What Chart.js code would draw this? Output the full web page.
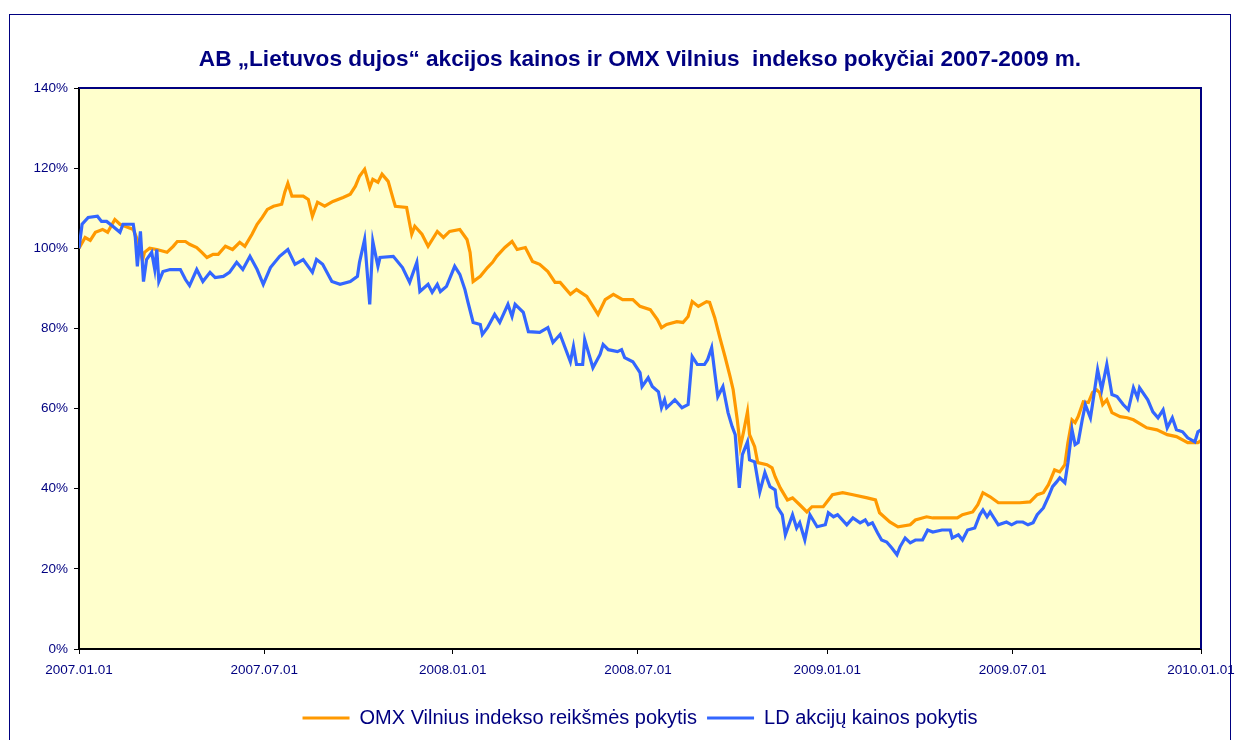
<!DOCTYPE html>
<html><head><meta charset="utf-8">
<script src="https://cdn.jsdelivr.net/npm/chart.js@4.4.1/dist/chart.umd.min.js"></script>
<style>html,body{margin:0;padding:0;background:#fff;} canvas{display:block;}</style>
</head><body>
<canvas id="c" width="1236" height="740"></canvas>
<script>
const titleText = 'AB „Lietuvos dujos“ akcijos kainos ir OMX Vilnius  indekso pokyčiai 2007-2009 m.';
const seriesNames = ['OMX Vilnius indekso reikšmės pokytis', 'LD akcijų kainos pokytis'];
// x = days since 2007.01.01
const tickDays = [0, 181, 365, 546, 731, 912, 1096];
const tickLabels = ['2007.01.01', '2007.07.01', '2008.01.01', '2008.07.01', '2009.01.01', '2009.07.01', '2010.01.01'];

const omxDays = [0,6,11,16,23,28,35,40,50,53,58,62,64,69,76,86,92,96,104,108,115,120,125,131,136,143,150,157,162,169,174,179,184,190,198,201,204,208,219,224,228,233,240,248,258,265,270,274,279,284,287,292,296,302,307,309,320,325,328,335,341,350,356,362,372,379,382,385,392,399,404,408,416,423,428,436,443,450,458,465,470,480,486,496,507,514,522,531,541,548,558,565,569,574,584,590,595,599,605,613,616,621,626,631,636,639,643,646,649,653,655,660,663,672,677,680,685,692,697,704,711,716,727,736,746,756,770,778,782,792,800,812,817,828,834,848,858,863,873,878,883,890,898,909,919,929,936,942,947,953,958,963,966,970,973,976,981,986,990,994,997,1000,1004,1009,1017,1024,1030,1043,1053,1063,1072,1083,1093,1096];
const omxValues = [100,102.7,102,104,104.7,104,107.2,106,105,104.7,101.5,97,99,100,99.7,99,100.5,101.7,101.7,101,100.2,99,97.7,98.5,98.5,100.5,99.7,101.5,100.5,103.5,106,107.7,109.7,110.5,111,114,116.2,113,113,112.2,108,111.5,110.5,111.7,112.7,113.5,115.5,118,119.7,115.2,117.2,116.5,118.5,116.7,112.2,110.5,110.2,103.5,105.5,103.5,100.5,104.2,102.7,104.2,104.7,102.2,99,91.7,93,95.2,96.5,98,100.2,101.7,99.7,100.2,96.7,96,94.2,91.5,91.5,88.5,89.7,88,83.5,87.2,88.5,87.2,87.2,85.5,84.7,82.2,80.2,81,81.7,81.5,83,86.7,85.5,86.7,86.5,82.7,77.7,73,68,64.7,57.2,50.5,54,59.2,53.5,50.5,46.5,46,45.2,43,40.2,37.2,37.7,36,34.2,35.5,35.5,38.5,39,38.5,37.7,37.2,34,31.7,30.5,31,32.2,33,32.7,32.7,32.7,33.5,34.2,36,39,38,36.5,36.5,36.5,36.7,38.5,39,41,44.7,44.2,46,51.5,57.2,56.5,58,61.7,61.5,64,64.7,64,61,62.2,59,58,57.7,57.2,55.2,54.7,53.5,53,51.5,51.5,52];

const ldDays = [0,3,9,18,22,27,33,40,43,53,55,57,60,63,66,71,74,76,78,82,89,99,104,108,115,121,128,133,141,147,154,160,167,174,180,187,196,204,211,219,228,232,238,247,255,265,272,274,279,284,287,292,294,307,316,323,330,333,341,345,350,353,359,367,372,377,380,385,392,394,399,406,411,419,423,426,434,439,450,458,463,470,480,483,486,492,494,502,509,512,517,526,530,533,541,548,550,556,560,566,569,572,574,582,589,595,599,604,611,614,618,621,624,629,634,638,641,645,648,653,655,660,665,670,675,680,682,687,690,697,701,704,709,714,721,729,732,737,741,750,756,763,768,771,775,780,784,789,794,799,802,807,812,817,824,829,834,843,851,853,859,863,868,875,880,883,887,890,898,906,911,916,922,927,932,936,942,947,951,955,958,963,966,970,973,976,980,983,988,990,995,999,1004,1009,1014,1020,1025,1030,1034,1036,1044,1049,1054,1059,1063,1068,1072,1078,1083,1090,1093,1096];
const ldValues = [100,106,107.7,108,106.7,106.7,105.5,104,106,106,102.7,95.5,104.2,91.7,97.2,99,94.7,99.7,91.7,94.2,94.7,94.7,92.2,90.7,94.7,91.7,94,92.7,93,94,96.5,94.7,98,94.7,91,95.2,98,99.7,96,97.2,94,97.2,96,91.7,91,91.7,93,96.5,102.2,86,101.7,95.5,97.7,98,95.2,91.5,96.5,89.2,91,89,91,89.2,90.5,95.5,93.5,89.7,86.5,81.5,81,78.5,80.2,83.5,81.5,86,83,86,84,79.2,79,80.2,76.5,78.5,71.7,75.5,71,71,77.2,70.2,73.5,76,74.7,74.2,74.7,72.7,71.7,69,65.5,67.7,65.5,64.2,60.2,62.2,60.2,62.2,60.2,61,73,71,71,72.2,75.2,69,63,65.5,59,55.5,53.5,40.2,48.5,51.7,47.2,46.7,39.2,44,40.5,39.7,35.5,33.5,28.5,33.5,30.2,31.5,27.2,33.5,30.5,31,34,33,33.5,31,32.7,31.5,32.2,31,31.5,29,27.2,26.7,25.2,23.5,25.5,27.7,26.5,27.2,27.2,29.7,29.2,29.7,29.7,27.7,28.5,27.2,29.7,30.2,33.5,34.7,33,34.2,31,31.7,31,31.7,31.7,31,31.5,33.5,35.2,38,40.5,41.7,42.7,41.5,46.5,54.7,51,51.5,57.2,61,57.7,61,69.7,64.7,71,63.5,63,61,59.7,65.2,62.7,65.2,62.2,59.2,57.7,59.7,55.2,57.7,54.7,54.2,52.7,51.7,54.2,54.7];

const FONT = '"Liberation Sans", Arial, sans-serif';
const NAVY = '#000080';

const bgPlugin = {
  id: 'bg',
  beforeDraw(chart) {
    const c = chart.ctx, a = chart.chartArea;
    c.save();
    c.fillStyle = '#ffffff';
    c.fillRect(0, 0, chart.width, chart.height);
    c.strokeStyle = NAVY; c.lineWidth = 1;
    c.strokeRect(9.5, 14.5, 1221, 800);
    c.fillStyle = '#FFFFCC';
    c.fillRect(a.left, a.top, a.right - a.left, a.bottom - a.top);
    c.restore();
  },
  afterDatasetsDraw(chart) {
    const c = chart.ctx, a = chart.chartArea;
    c.save();
    c.strokeStyle = NAVY; c.lineWidth = 2;
    c.beginPath();
    c.moveTo(a.left, a.top); c.lineTo(a.right, a.top); c.lineTo(a.right, a.bottom);
    c.stroke();
    c.restore();
  }
};

new Chart(document.getElementById('c'), {
  type: 'line',
  data: {
    datasets: [
      { label: seriesNames[0], data: omxDays.map((d, i) => ({ x: d, y: omxValues[i] })),
        borderColor: '#FF9900', backgroundColor: '#FF9900', borderWidth: 3.2, pointRadius: 0, tension: 0, order: 1 },
      { label: seriesNames[1], data: ldDays.map((d, i) => ({ x: d, y: ldValues[i] })),
        borderColor: '#3366FF', backgroundColor: '#3366FF', borderWidth: 3.2, pointRadius: 0, tension: 0, order: 0 }
    ]
  },
  options: {
    responsive: false,
    animation: false,
    layout: { padding: { left: 0, right: 35, top: 0, bottom: 2 } },
    plugins: {
      title: { display: true, text: titleText, fullSize: false, color: NAVY,
        font: { family: FONT, size: 22.6, weight: 'bold' }, padding: { top: 46, bottom: 14.9 } },
      legend: { position: 'bottom', fullSize: false, reverse: true,
        labels: { usePointStyle: true, pointStyle: 'line', pointStyleWidth: 47, color: NAVY,
          font: { family: FONT, size: 20 }, padding: 10 } },
      tooltip: { enabled: false }
    },
    scales: {
      x: {
        type: 'linear', min: 0, max: 1096,
        afterBuildTicks: s => { s.ticks = tickDays.map(v => ({ value: v })); },
        ticks: { callback: (v, i) => tickLabels[i], color: NAVY, font: { family: FONT, size: 13.5 },
          padding: 8, maxRotation: 0, autoSkip: false },
        grid: { drawOnChartArea: false, drawTicks: true, tickLength: 5, color: '#000' },
        border: { color: '#000', width: 2 },
        afterFit: s => { s.height = 49; s.paddingLeft = 0; s.paddingRight = 0; }
      },
      y: {
        min: 0, max: 140,
        ticks: { stepSize: 20, callback: v => v + '%', color: NAVY, font: { family: FONT, size: 13.5 }, padding: 6 },
        grid: { drawOnChartArea: false, drawTicks: true, tickLength: 5, color: '#000' },
        border: { color: '#000', width: 2 },
        afterFit: s => { s.width = 79; }
      }
    }
  },
  plugins: [bgPlugin]
});
</script>
</body></html>
